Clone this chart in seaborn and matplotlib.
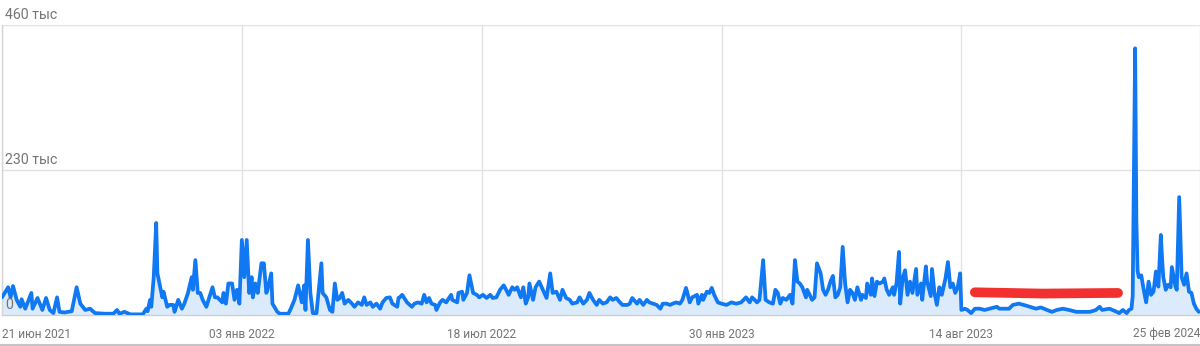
import matplotlib
matplotlib.use("Agg")
import matplotlib.pyplot as plt
import seaborn as sns
import pandas as pd
from matplotlib.lines import Line2D

# ---------------- data ----------------
start_date = "2021-06-21"
end_date = "2024-02-25"
tick_dates = ["2021-06-21", "2022-01-03", "2022-07-18", "2023-01-30", "2023-08-14", "2024-02-25"]
tick_labels = ["21 июн 2021", "03 янв 2022", "18 июл 2022", "30 янв 2023", "14 авг 2023", "25 фев 2024"]
y_ticks = [0, 230, 460]
y_tick_labels = ["0", "230 тыс", "460 тыс"]

# days since start date, values in thousands
days_a = [0, 5, 7, 9, 12, 15, 16, 19, 21, 24, 25, 29, 33, 36, 39, 42, 45, 47, 51, 57, 61, 64, 68, 72, 76, 84, 91, 94, 96, 100,
          105, 115, 118, 119, 121, 122, 124, 126, 127, 131, 132, 135, 137, 140, 141, 144, 147, 149, 152, 155, 156, 158, 160]
vals_a = [28, 44, 28, 46, 24, 13, 25, 10, 20, 35, 10, 27, 8, 27, 8, 3, 28, 5, 4, 6, 44, 18, 8, 10, 3, 2, 2, 8, 2, 5,
          1, 1, 10, 6, 24, 13, 60, 146, 66, 28, 37, 13, 16, 16, 5, 24, 10, 18, 35, 60, 40, 87, 35]

days_b = [162, 164, 167, 172, 174, 176, 180, 181, 183, 185, 188, 190, 192, 194, 196, 198, 200, 202, 204, 205,
          207, 209, 212, 214, 216, 217, 220, 221, 225, 227, 234, 236, 239, 242, 245, 247, 248, 250, 252, 254,
          257, 261, 262, 265, 268, 270, 272, 274, 276, 278, 280, 283, 286, 288, 291, 294, 296, 298, 301, 303,
          306, 309, 311, 314, 317, 319, 323, 324]
vals_b = [35, 24, 13, 44, 28, 28, 20, 35, 18, 50, 50, 24, 40, 18, 119, 60, 119, 35, 60, 28,
          50, 35, 82, 82, 35, 40, 66, 18, 5, 2, 2, 10, 24, 47, 20, 47, 8, 119, 35, 3,
          3, 82, 35, 28, 8, 5, 50, 24, 27, 35, 18, 24, 18, 13, 20, 16, 28, 16, 20, 13,
          18, 10, 20, 27, 28, 18, 13, 27]

days_c = [325, 327, 331, 335, 337, 340, 343, 345, 347, 349, 351, 354, 355, 358, 360, 363, 367, 368, 372, 373,
          376, 377, 380, 382, 385, 388, 390, 393, 396, 399, 401, 404, 407, 410, 412, 414, 417, 419, 421, 424,
          426, 428, 430, 431, 434, 436, 439, 442, 445, 448, 450, 453, 456, 458, 461, 464, 466, 470, 472, 475,
          478, 480, 483, 486]
vals_c = [28, 32, 20, 13, 18, 20, 18, 32, 20, 27, 18, 16, 8, 20, 24, 20, 32, 24, 20, 35,
          37, 24, 35, 63, 35, 32, 28, 32, 27, 32, 27, 28, 40, 47, 40, 32, 44, 40, 44, 28,
          44, 18, 28, 50, 24, 44, 53, 40, 27, 66, 35, 37, 24, 40, 27, 24, 18, 20, 28, 18,
          24, 35, 24, 16]

days_d = [488, 491, 494, 497, 499, 502, 505, 507, 511, 513, 515, 519, 521, 524, 527, 529, 532, 535, 538, 540,
          543, 546, 548, 551, 554, 556, 559, 562, 564, 568, 569, 572, 573, 576, 578, 580, 582, 585, 588, 592,
          596, 600, 604, 608, 611, 613, 617, 619, 622, 624, 627, 630, 632, 634, 636, 638, 641, 644, 646, 648, 650]
vals_d = [24, 18, 20, 28, 24, 27, 20, 16, 16, 18, 27, 18, 24, 16, 24, 20, 18, 16, 10, 18,
          18, 16, 18, 20, 18, 24, 43, 20, 28, 32, 18, 32, 24, 37, 35, 43, 32, 20, 18, 16,
          20, 18, 20, 28, 20, 28, 20, 24, 87, 24, 20, 18, 40, 35, 18, 27, 24, 32, 18, 87, 53]

days_e = [652, 654, 657, 658, 662, 664, 666, 669, 671, 673, 675, 677, 679, 681, 683, 685, 687, 689, 691, 693,
          695, 697, 699, 702, 703, 706, 707, 710, 711, 713, 715, 717, 720, 721, 723, 725, 728, 729, 731, 733,
          734, 736, 738, 740, 742, 744, 747, 748, 751, 752, 755, 756, 759, 760, 762, 764, 766, 768, 771, 773,
          775, 777, 779, 781, 783, 784, 787, 789, 792, 795, 799, 803, 807, 813]
vals_e = [50, 44, 28, 40, 24, 28, 82, 66, 40, 32, 40, 53, 62, 28, 32, 44, 108, 50, 20, 40,
          35, 24, 44, 24, 32, 27, 50, 32, 58, 30, 53, 50, 53, 58, 40, 32, 44, 32, 50, 100,
          18, 58, 71, 32, 53, 35, 73, 32, 50, 24, 77, 53, 30, 73, 35, 16, 44, 32, 58, 84,
          44, 50, 35, 44, 66, 8, 10, 8, 3, 10, 10, 8, 10, 13]

days_f = [815, 819, 823, 826, 831, 835, 840, 845, 849, 854, 858, 862, 867, 872, 878, 883, 889, 894, 897, 899,
          905, 911, 913, 916, 919, 921, 923, 924, 926, 927, 928, 929, 931, 933, 935, 937, 939, 941, 943, 945,
          947, 948, 949, 951, 953, 955, 956, 959, 960, 962, 964, 966, 968, 970, 972, 974, 976, 978]
vals_f = [10, 10, 10, 16, 18, 16, 13, 10, 12, 8, 5, 8, 10, 8, 5, 5, 5, 8, 13, 8,
          10, 5, 3, 8, 3, 8, 10, 30, 423, 150, 70, 60, 63, 40, 20, 53, 32, 37, 69, 45,
          127, 90, 60, 40, 48, 44, 76, 45, 40, 187, 60, 48, 66, 37, 35, 18, 10, 5]

# hand-drawn red marker stroke (annotation)
red_days = [795, 850, 912]
red_vals = [36, 34, 35]

# ---------------- build ----------------
days = days_a + days_b + days_c + days_d + days_e + days_f
values = vals_a + vals_b + vals_c + vals_d + vals_e + vals_f
assert len(days) == len(values)

t0 = pd.Timestamp(start_date)
df = pd.DataFrame({"date": t0 + pd.to_timedelta(days, unit="D"), "value": values})
red_df = pd.DataFrame({"date": t0 + pd.to_timedelta(red_days, unit="D"), "value": red_vals})

BLUE = "#0f78f2"
FILL = "#dcebfc"
RED = "#f2302f"
GRID = "#e2e2e2"
TEXT = "#757575"

sns.set_style("white")
plt.rcParams["font.family"] = ["Roboto", "DejaVu Sans"]

fig = plt.figure(figsize=(12, 3.46), dpi=100)
ax = fig.add_axes([2 / 1200, 31 / 346, 1198 / 1200, 290 / 346])

ax.fill_between(df["date"], df["value"], 0, color=FILL, zorder=1, linewidth=0)
sns.lineplot(data=df, x="date", y="value", color=BLUE, linewidth=2.7, ax=ax, zorder=3)
sns.lineplot(data=red_df, x="date", y="value", color=RED, linewidth=7, ax=ax, zorder=5,
             solid_capstyle="round")

ax.set_xlim(pd.Timestamp(start_date), pd.Timestamp(end_date))
ax.set_ylim(0, 460)
ax.set_xlabel("")
ax.set_ylabel("")

ax.set_xticks(pd.to_datetime(tick_dates))
ax.set_xticklabels(tick_labels, fontsize=8.6, color=TEXT)
lbls = ax.get_xticklabels()
lbls[0].set_ha("left")
lbls[-1].set_ha("right")
ax.set_yticks(y_ticks)
ax.set_yticklabels([])
ax.tick_params(axis="both", length=0)
ax.tick_params(axis="x", pad=9)
ax.grid(True, color=GRID, linewidth=1)
ax.set_axisbelow(True)

for v, lab in zip(y_ticks, y_tick_labels):
    ax.annotate(lab, xy=(0, v), xycoords=ax.get_yaxis_transform(), xytext=(2.5, 2.5),
                textcoords="offset points", ha="left", va="bottom", fontsize=10.2,
                color=TEXT, annotation_clip=False, zorder=6)

for s in ["top", "right"]:
    ax.spines[s].set_visible(False)
ax.spines["left"].set_color("#d4d4d4")
ax.spines["bottom"].set_color("#cfcfcf")
ax.spines["left"].set_linewidth(1)
ax.spines["bottom"].set_linewidth(1)

fig.add_artist(Line2D([0, 1], [1.2 / 346, 1.2 / 346], color="#c4c4c4", linewidth=1.5,
                      transform=fig.transFigure))

fig.savefig("out.png", dpi=100)
